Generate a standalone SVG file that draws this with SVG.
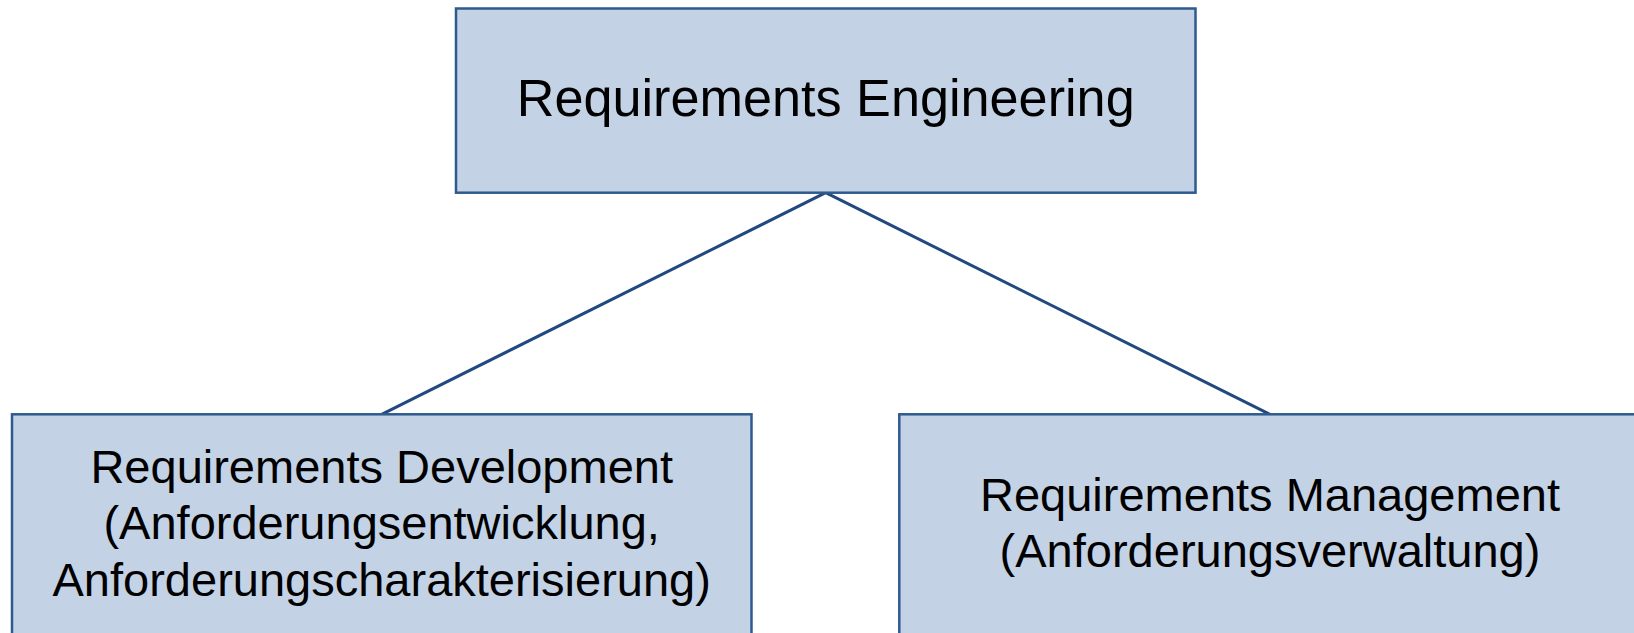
<svg xmlns="http://www.w3.org/2000/svg" width="1634" height="633" viewBox="0 0 1634 633">
<style>
.box{fill:#c3d2e5;stroke:#2f5a8e;stroke-width:2.5}
.t{font-family:"Liberation Sans",Arial,sans-serif;fill:#000;text-anchor:middle}
.s{font-size:47px}
.c{stroke:#22497f;stroke-width:3;fill:none}
</style>
<rect width="1634" height="633" fill="#fff"/>
<g id="connectors">
<line class="c" x1="825.7" y1="192.7" x2="381.7" y2="414.3"/>
<line class="c" x1="825.7" y1="192.7" x2="1270" y2="414.3"/>
</g>
<g id="node-re">
<rect class="box" x="456" y="8.5" width="739.5" height="184.2"/>
<text class="t" x="825.7" y="116" font-size="52.2">Requirements Engineering</text>
</g>
<g id="node-rd">
<rect class="box" x="12" y="414.3" width="739.5" height="240"/>
<text class="t s" x="381.7"><tspan x="381.7" y="483">Requirements Development</tspan><tspan x="381.7" y="539.3">(Anforderungsentwicklung,</tspan><tspan x="381.7" y="595.5">Anforderungscharakterisierung)</tspan></text>
</g>
<g id="node-rm">
<rect class="box" x="899.3" y="414.3" width="741.4" height="240"/>
<text class="t s" x="1270"><tspan x="1270" y="511">Requirements Management</tspan><tspan x="1270" y="567">(Anforderungsverwaltung)</tspan></text>
</g>
</svg>
